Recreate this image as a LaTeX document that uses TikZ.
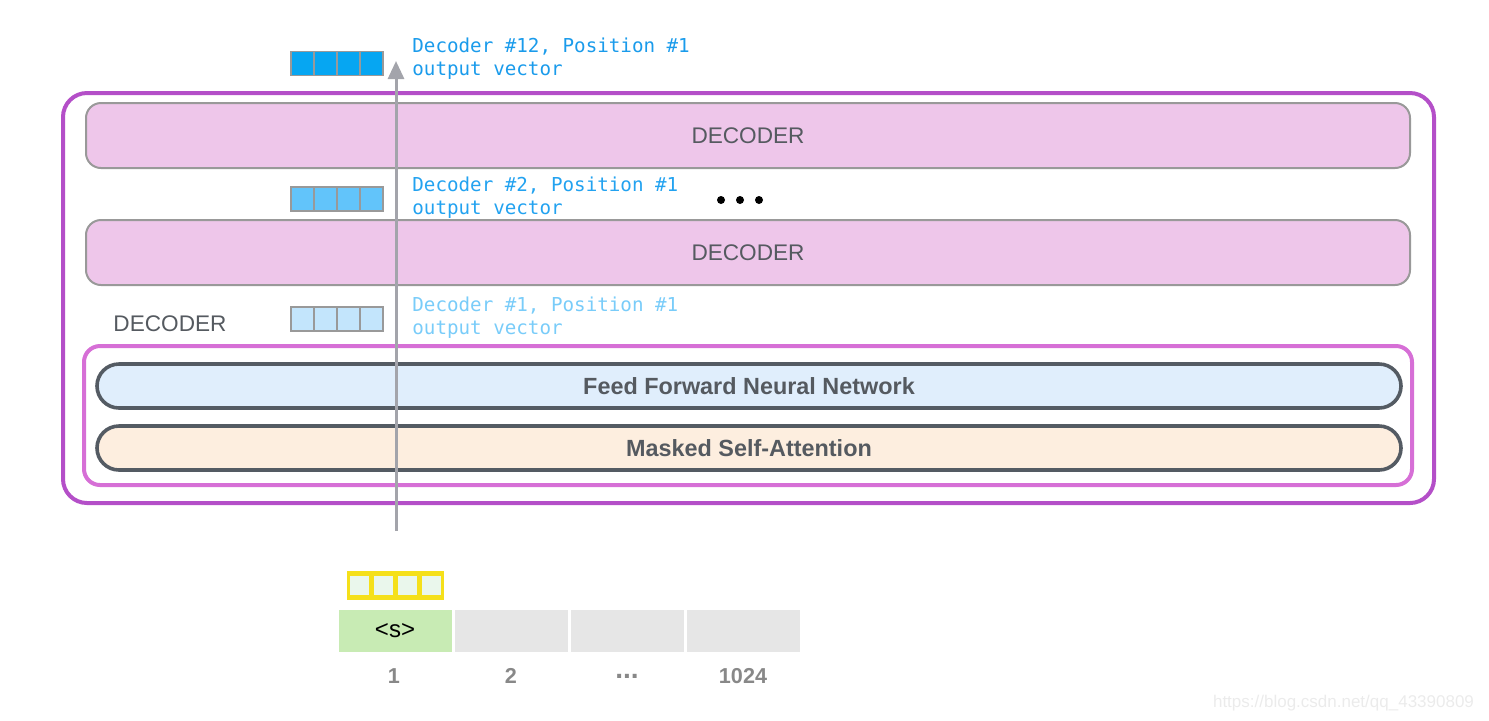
\documentclass[tikz,border=0pt]{standalone}
\usepackage{fontspec}
\setmainfont{Liberation Sans}
\newfontfamily\monof{DejaVu Sans Mono}
\usetikzlibrary{arrows.meta}
\definecolor{outerp}{HTML}{B44FC8}
\definecolor{innerp}{HTML}{D66FD6}
\definecolor{decfill}{HTML}{EEC6EA}
\definecolor{decdraw}{HTML}{999999}
\definecolor{txtgray}{HTML}{555A60}
\definecolor{ffnfill}{HTML}{E0EEFC}
\definecolor{msafill}{HTML}{FDEEDF}
\definecolor{pilldraw}{HTML}{545B63}
\definecolor{vecA}{HTML}{06A6F2}
\definecolor{vecB}{HTML}{62C4FA}
\definecolor{vecC}{HTML}{C3E5FC}
\definecolor{txtA}{HTML}{1A9BEB}
\definecolor{txtB}{HTML}{22A2F0}
\definecolor{txtC}{HTML}{79CCF9}
\definecolor{yel}{HTML}{F5E01A}
\definecolor{yelcell}{HTML}{EAF7EC}
\definecolor{tokgreen}{HTML}{C8EBB4}
\definecolor{tokgray}{HTML}{E6E6E6}
\definecolor{numgray}{HTML}{888888}
\definecolor{arrowgray}{HTML}{A3A4AB}
\tikzset{
  decbar/.style={draw=decdraw, line width=1pt, fill=decfill, rounded corners=7.5pt},
  dectext/.style={text=txtgray, font=\fontsize{11.3}{13}\selectfont},
  pill/.style={draw=pilldraw, line width=1.8pt, rounded corners=11pt},
  pilltext/.style={text=txtgray, font=\fontsize{11.7}{13}\selectfont\bfseries},
  cell/.style={draw=decdraw, line width=0.8pt, minimum width=11.5pt, minimum height=12pt, inner sep=0pt, outer sep=0pt},
  ycell/.style={fill=yelcell, minimum width=9.5pt, minimum height=9.5pt, inner sep=0pt},
  mono/.style={font=\monof\fontsize{9.6}{11.5}\selectfont, anchor=north west, inner sep=0pt, align=left},
  tok/.style={minimum width=56.5pt, minimum height=21pt, inner sep=0pt},
  num/.style={text=numgray, font=\fontsize{10.8}{12}\selectfont\bfseries},
}
\begin{document}
\begin{tikzpicture}[x=0.5pt,y=-0.5pt]
\useasboundingbox (0,0) rectangle (1489,720);
% outer decoder stack
\draw[outerp, line width=2pt, rounded corners=12pt] (63,93) rectangle (1434,503);
\node[decbar, minimum width=662pt, minimum height=32.5pt] (dec12) at (748,135.5) {};
\node[dectext] (dec12t) at (748,136) {DECODER};
\node[decbar, minimum width=662pt, minimum height=32.5pt] (dec2) at (748,252.5) {};
\node[dectext] (dec2t) at (748,253) {DECODER};
% inner decoder
\draw[innerp, line width=2pt, rounded corners=8pt] (84,346) rectangle (1412,485);
\node[dectext] (declab) at (170,324) {DECODER};
\node[pill, fill=ffnfill, minimum width=652pt, minimum height=22pt] (ffn) at (749,386) {};
\node[pilltext] (ffnt) at (749,386) {Feed Forward Neural Network};
\node[pill, fill=msafill, minimum width=652pt, minimum height=22pt] (msa) at (749,448) {};
\node[pilltext] (msat) at (749,448) {Masked Self-Attention};
% output vectors
\foreach \i in {0,1,2,3} {
  \node[cell, fill=vecA] (va\i) at ({302.5+23*\i},63.5) {};
  \node[cell, fill=vecB] (vb\i) at ({302.5+23*\i},199) {};
  \node[cell, fill=vecC] (vc\i) at ({302.5+23*\i},319) {};
}
\node[mono, text=txtA] (ta) at (412,37.5) {Decoder \#12, Position \#1\\output vector};
\node[mono, text=txtB] (tb) at (412,176.5) {Decoder \#2, Position \#1\\output vector};
\node[mono, text=txtC] (tc) at (412,296.5) {Decoder \#1, Position \#1\\output vector};
% dots
\foreach \j in {0,1,2} \fill (721+19*\j,200) circle (2pt);
% input embedding
\node[draw=yel, line width=2.8pt, fill=yel, minimum width=45.5pt, minimum height=11.5pt, inner sep=0pt] (emb) at (395.5,585.5) {};
\foreach \i in {0,1,2,3} \node[ycell] (y\i) at ({359.5+24*\i},585.5) {};
% tokens
\node[tok, fill=tokgreen] (t1) at (395,631) {\fontsize{12}{14}\selectfont <s>};
\node[tok, fill=tokgray] (t2) at (511.5,631) {};
\node[tok, fill=tokgray] (t3) at (627.5,631) {};
\node[tok, fill=tokgray] (t4) at (743.5,631) {};
\node[num] (n1) at (394,676) {1};
\node[num] (n2) at (511,676) {2};
\node[num, font=\fontsize{14}{14}\selectfont\bfseries] (n3) at (627,676) {...};
\node[num] (n4) at (743,676) {1024};
% arrow
\coordinate (astart) at (396,531);
\coordinate (aend) at (396,61);
\draw[arrowgray, line width=1.5pt, -{Triangle[length=9pt,width=8pt]}] (astart) -- (aend);
% watermark
\node[text=black!8, font=\fontsize{8.5}{10}\selectfont, anchor=east] (wm) at (1481,703) {https://blog.csdn.net/qq\_43390809};
\end{tikzpicture}
\end{document}
